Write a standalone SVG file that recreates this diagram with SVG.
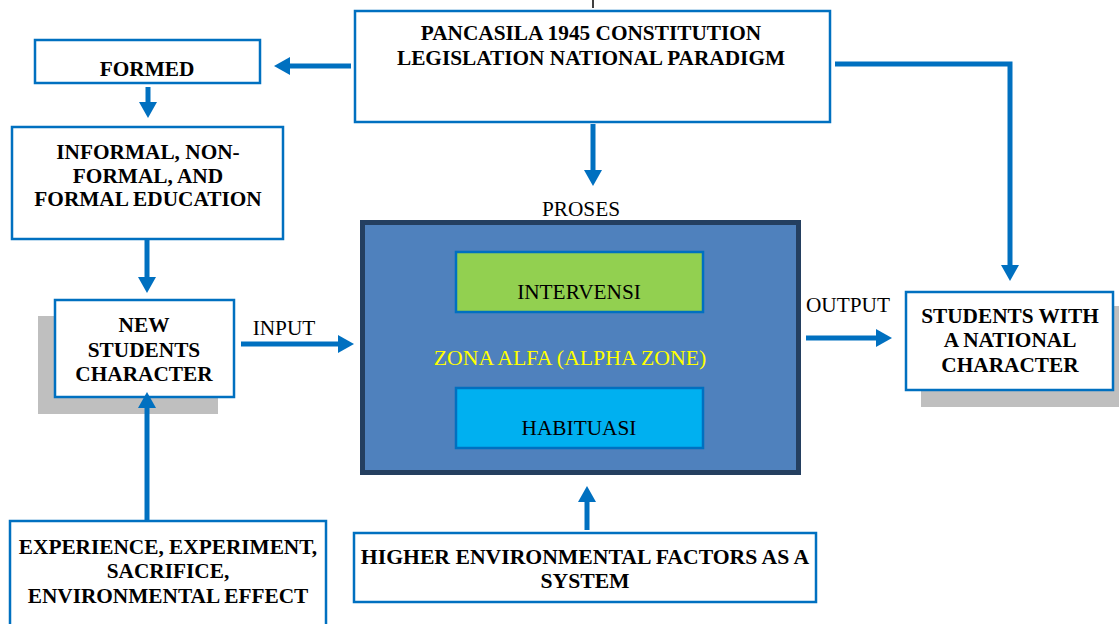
<svg xmlns="http://www.w3.org/2000/svg" width="1119" height="624" viewBox="0 0 1119 624">
<style>
.box{fill:#ffffff;stroke:#0070C0;stroke-width:2.5}
.shadow{fill:#BFBFBF}
.t{font-family:"Liberation Serif","Times New Roman",serif;font-size:21.3px;fill:#000;text-anchor:middle}
.b{font-weight:bold}
.conn{fill:none;stroke:#0070C0;stroke-width:5}
</style>
<defs>
<marker id="ah" markerUnits="userSpaceOnUse" markerWidth="17" markerHeight="20" refX="1" refY="10" orient="auto">
<path d="M0,1 L16,10 L0,19 z" fill="#0070C0"/>
</marker>
</defs>
<rect width="1119" height="624" fill="#ffffff"/>
<line x1="593" y1="0" x2="593" y2="8" stroke="#000" stroke-width="1.5"/>

<g id="pancasila">
<rect class="box" x="355" y="11" width="475" height="111"/>
<text class="t b" x="591" y="40">PANCASILA 1945 CONSTITUTION</text>
<text class="t b" x="591" y="65">LEGISLATION NATIONAL PARADIGM</text>
</g>

<g id="formed">
<rect class="box" x="35" y="40" width="225" height="43"/>
<text class="t b" x="147" y="76">FORMED</text>
</g>

<g id="education">
<rect class="box" x="12" y="127" width="271" height="112"/>
<text class="t b" x="148" y="159">INFORMAL, NON-</text>
<text class="t b" x="148" y="183">FORMAL, AND</text>
<text class="t b" x="148" y="206">FORMAL EDUCATION</text>
</g>

<g id="new-students">
<rect class="shadow" x="38" y="316" width="180" height="98"/>
<rect class="box" x="55" y="300" width="179" height="97"/>
<text class="t b" x="144" y="332">NEW</text>
<text class="t b" x="144" y="357">STUDENTS</text>
<text class="t b" x="144" y="381">CHARACTER</text>
</g>

<g id="input-label">
<text class="t" x="284" y="335">INPUT</text>
</g>

<g id="proses">
<text class="t" x="581" y="216">PROSES</text>
<rect x="362.5" y="222.5" width="436" height="250" fill="#4F81BD" stroke="#243F60" stroke-width="5"/>
<text class="t" x="570" y="365" style="fill:#FFFF00;font-size:21.8px">ZONA ALFA (ALPHA ZONE)</text>
</g>

<g id="intervensi">
<rect x="456" y="252" width="247" height="60" fill="#92D050" stroke="#0070C0" stroke-width="2.5"/>
<text class="t" x="579" y="299">INTERVENSI</text>
</g>

<g id="habituasi">
<rect x="456" y="388" width="247" height="60" fill="#00B0F0" stroke="#0070C0" stroke-width="2.5"/>
<text class="t" x="579" y="435">HABITUASI</text>
</g>

<g id="output-label">
<text class="t" x="848" y="312">OUTPUT</text>
</g>

<g id="students-national">
<rect class="shadow" x="921" y="306" width="198" height="101"/>
<rect class="box" x="906" y="292" width="207" height="98"/>
<text class="t b" x="1010" y="323">STUDENTS WITH</text>
<text class="t b" x="1010" y="347">A NATIONAL</text>
<text class="t b" x="1010" y="372">CHARACTER</text>
</g>

<g id="experience">
<rect class="box" x="10" y="521" width="316" height="110"/>
<text class="t b" x="168" y="554">EXPERIENCE, EXPERIMENT,</text>
<text class="t b" x="168" y="578">SACRIFICE,</text>
<text class="t b" x="168" y="603">ENVIRONMENTAL EFFECT</text>
</g>

<g id="higher">
<rect class="box" x="354" y="533" width="462" height="69"/>
<text class="t b" x="585" y="564" style="font-size:21.7px">HIGHER ENVIRONMENTAL FACTORS AS A</text>
<text class="t b" x="585" y="588" style="font-size:21.7px">SYSTEM</text>
</g>

<g id="connectors">
<line class="conn" x1="351" y1="66" x2="289" y2="66" marker-end="url(#ah)"/>
<line class="conn" x1="148" y1="87" x2="148" y2="103" marker-end="url(#ah)"/>
<line class="conn" x1="147" y1="240" x2="147" y2="278" marker-end="url(#ah)"/>
<line class="conn" x1="147" y1="520" x2="147" y2="407" marker-end="url(#ah)"/>
<line class="conn" x1="241" y1="344" x2="339" y2="344" marker-end="url(#ah)"/>
<line class="conn" x1="593" y1="124" x2="593" y2="171" marker-end="url(#ah)"/>
<line class="conn" x1="806" y1="338" x2="877" y2="338" marker-end="url(#ah)"/>
<polyline class="conn" points="835,64 1010,64 1010,266" marker-end="url(#ah)"/>
<line class="conn" x1="587" y1="530" x2="587" y2="501" marker-end="url(#ah)"/>
</g>
</svg>
